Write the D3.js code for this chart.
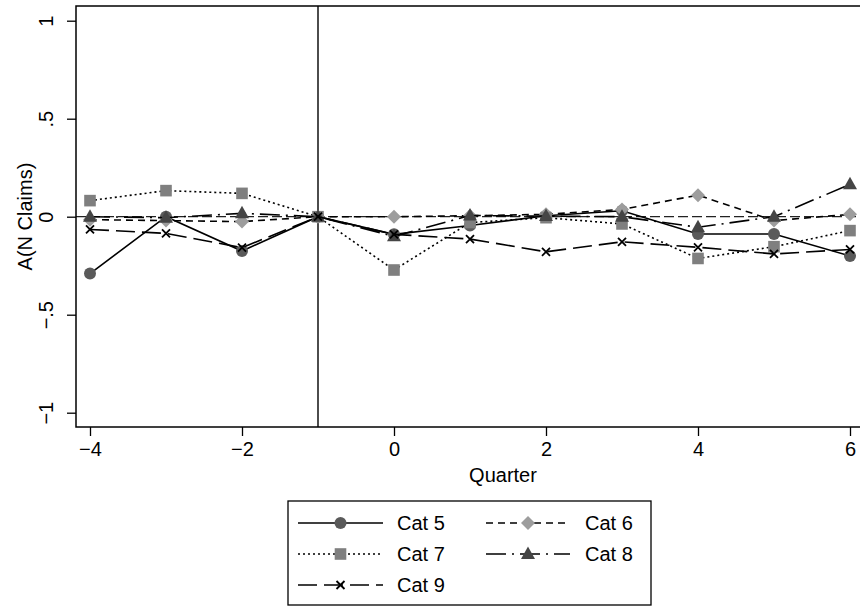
<!DOCTYPE html>
<html>
<head>
<meta charset="utf-8">
<script src="https://cdn.jsdelivr.net/npm/d3@7"></script>
<style>
  body { margin: 0; background: #fff; }
  svg { display: block; font-family: "Liberation Sans", Arial, sans-serif; }
</style>
</head>
<body>
<svg class="graph" width="860" height="607"></svg>
<script>
//======
// Data
//======

var quarters = [-4, -3, -2, -1, 0, 1, 2, 3, 4, 5, 6];
var cat5 = [-0.29, 0.0, -0.175, 0, -0.09, -0.045, 0.005, 0.03, -0.088, -0.088, -0.2];
var cat6 = [-0.015, -0.02, -0.025, 0, 0, 0.005, 0.012, 0.037, 0.11, -0.02, 0.012];
var cat7 = [0.082, 0.133, 0.119, 0, -0.272, -0.03, -0.005, -0.037, -0.213, -0.153, -0.071];
var cat8 = [0, -0.005, 0.017, 0, -0.1, 0.006, 0.003, 0, -0.054, 0, 0.165];
var cat9 = [-0.065, -0.085, -0.158, 0, -0.09, -0.114, -0.179, -0.128, -0.156, -0.19, -0.167];

var xTicks = [-4, -2, 0, 2, 4, 6];
var yTicks = [-1, -0.5, 0, 0.5, 1];
var yTickLabels = ["\u22121", "\u2212.5", "0", ".5", "1"];
var eventQuarter = -1;

//=========
// Styles
//=========

var series = [
  {name: "Cat 5", values: cat5, dash: null, marker: "circle", fill: "#5a5a5a"},
  {name: "Cat 6", values: cat6, dash: "7,5", marker: "diamond", fill: "#9d9d9d"},
  {name: "Cat 7", values: cat7, dash: "2,3", marker: "square", fill: "#7f7f7f"},
  {name: "Cat 8", values: cat8, dash: "20,6,2,6", marker: "triangle", fill: "#454545"},
  {name: "Cat 9", values: cat9, dash: "19,7", marker: "x", fill: "#000"}
];

var svg = d3.select(".graph");
var plot = {left: 76, top: 6, right: 862, bottom: 427};

var x = d3.scaleLinear().domain([-4, 6]).range([90, 850]);
var y = d3.scaleLinear().domain([-1, 1]).range([412.7, 20.7]);

function drawMarker(g, type, fill) {
  if (type === "circle") {
    g.append("circle").attr("r", 6).attr("fill", fill);
  } else if (type === "square") {
    g.append("rect").attr("x", -5.8).attr("y", -5.8).attr("width", 11.6).attr("height", 11.6).attr("fill", fill);
  } else if (type === "diamond") {
    g.append("path").attr("d", "M0,-7L7,0L0,7L-7,0Z").attr("fill", fill);
  } else if (type === "triangle") {
    g.append("path").attr("d", "M0,-7.5L7,5L-7,5Z").attr("fill", fill);
  } else {
    g.append("path").attr("d", "M-4,-4L4,4M-4,4L4,-4").attr("stroke", fill).attr("stroke-width", 1.8);
  }
}

//======
// Axes
//======

// y=0 reference line and the event line
svg.append("line")
  .attr("x1", plot.left).attr("x2", plot.right)
  .attr("y1", y(0)).attr("y2", y(0))
  .attr("stroke", "#222").attr("stroke-width", 1.3)
  .attr("stroke-dasharray", "10,4");

svg.append("line")
  .attr("x1", x(eventQuarter)).attr("x2", x(eventQuarter))
  .attr("y1", plot.top).attr("y2", plot.bottom)
  .attr("stroke", "#000").attr("stroke-width", 1.4);

var yAxis = svg.append("g")
  .attr("transform", "translate(" + plot.left + ",0)")
  .call(d3.axisLeft(y).tickValues(yTicks).tickSize(9).tickFormat(function (d, i) { return yTickLabels[i]; }));
yAxis.select(".domain").remove();
yAxis.selectAll(".tick line").attr("stroke-width", 1.3);
yAxis.selectAll(".tick text")
  .attr("x", null).attr("dy", null)
  .attr("transform", "translate(-23,0) rotate(-90)")
  .attr("text-anchor", "middle")
  .attr("font-size", 20).attr("font-family", null);

var xAxis = svg.append("g")
  .attr("transform", "translate(0," + plot.bottom + ")")
  .call(d3.axisBottom(x).tickValues(xTicks).tickSize(9).tickFormat(function (d) { return d < 0 ? "\u2212" + Math.abs(d) : d; }));
xAxis.select(".domain").remove();
xAxis.selectAll(".tick line").attr("stroke-width", 1.3);
xAxis.selectAll(".tick text")
  .attr("y", 29).attr("dy", null)
  .attr("font-size", 20).attr("font-family", null);

svg.append("rect")
  .attr("x", plot.left).attr("y", plot.top)
  .attr("width", plot.right - plot.left).attr("height", plot.bottom - plot.top)
  .attr("fill", "none").attr("stroke", "#000").attr("stroke-width", 1.5);

svg.append("text")
  .attr("x", (plot.left + 850) / 2 + 40).attr("y", 482)
  .attr("text-anchor", "middle").attr("font-size", 20)
  .text("Quarter");

svg.append("text")
  .attr("transform", "translate(32," + ((plot.top + plot.bottom) / 2) + ") rotate(-90)")
  .attr("text-anchor", "middle").attr("font-size", 20)
  .text("A(N Claims)");

//========
// Series
//========

var line = d3.line()
  .x(function (d, i) { return x(quarters[i]); })
  .y(function (d) { return y(d); });

series.forEach(function (s) {
  var g = svg.append("g").attr("class", "series");
  g.append("path")
    .attr("d", line(s.values))
    .attr("fill", "none")
    .attr("stroke", "#000")
    .attr("stroke-width", 1.6)
    .attr("stroke-dasharray", s.dash);
  s.values.forEach(function (v, i) {
    var m = g.append("g").attr("transform", "translate(" + x(quarters[i]) + "," + y(v) + ")");
    drawMarker(m, s.marker, s.fill);
  });
});

//========
// Legend
//========

var legend = svg.append("g");
legend.append("rect")
  .attr("x", 288).attr("y", 501).attr("width", 363).attr("height", 104)
  .attr("fill", "none").attr("stroke", "#000").attr("stroke-width", 1.3);

var cols = [{x1: 298, x2: 383, tx: 397}, {x1: 486, x2: 570, tx: 585}];
var rows = [523, 554, 585];

series.forEach(function (s, i) {
  var c = cols[i % 2], r = rows[Math.floor(i / 2)];
  legend.append("line")
    .attr("x1", c.x1).attr("x2", c.x2).attr("y1", r).attr("y2", r)
    .attr("stroke", "#000").attr("stroke-width", 1.6)
    .attr("stroke-dasharray", s.dash);
  var m = legend.append("g").attr("transform", "translate(" + (c.x1 + c.x2) / 2 + "," + r + ")");
  drawMarker(m, s.marker, s.fill);
  legend.append("text")
    .attr("x", c.tx).attr("y", r + 7)
    .attr("font-size", 20)
    .text(s.name);
});
</script>
</body>
</html>
